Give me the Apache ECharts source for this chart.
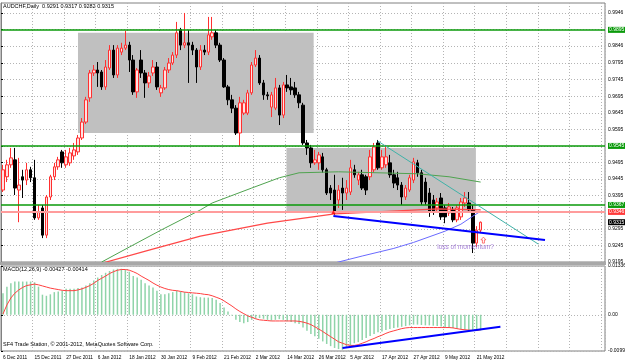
<!DOCTYPE html>
<html>
<head>
<meta charset="utf-8">
<script src="https://cdn.jsdelivr.net/npm/echarts@6/dist/echarts.min.js"></script>
<style>
  html, body { margin: 0; padding: 0; background: #fff; }
  #chart { width: 625px; height: 363px; }
</style>
</head>
<body>
<div id="chart"></div>
<script>
// trading days shown on the chart (one bar each)
var dates = [
  '6 Dec 2011', '7 Dec 2011', '8 Dec 2011', '9 Dec 2011', '11 Dec 2011', '12 Dec 2011', '13 Dec 2011', '14 Dec 2011',
  '15 Dec 2011', '16 Dec 2011', '19 Dec 2011', '20 Dec 2011', '21 Dec 2011', '22 Dec 2011', '23 Dec 2011', '26 Dec 2011',
  '27 Dec 2011', '28 Dec 2011', '29 Dec 2011', '30 Dec 2011', '2 Jan 2012', '3 Jan 2012', '4 Jan 2012', '5 Jan 2012',
  '6 Jan 2012', '9 Jan 2012', '10 Jan 2012', '11 Jan 2012', '12 Jan 2012', '13 Jan 2012', '16 Jan 2012', '17 Jan 2012',
  '18 Jan 2012', '19 Jan 2012', '20 Jan 2012', '23 Jan 2012', '24 Jan 2012', '25 Jan 2012', '26 Jan 2012', '27 Jan 2012',
  '30 Jan 2012', '31 Jan 2012', '1 Feb 2012', '2 Feb 2012', '3 Feb 2012', '6 Feb 2012', '7 Feb 2012', '8 Feb 2012',
  '9 Feb 2012', '10 Feb 2012', '13 Feb 2012', '14 Feb 2012', '15 Feb 2012', '16 Feb 2012', '17 Feb 2012', '20 Feb 2012',
  '21 Feb 2012', '22 Feb 2012', '23 Feb 2012', '24 Feb 2012', '27 Feb 2012', '28 Feb 2012', '29 Feb 2012', '1 Mar 2012',
  '2 Mar 2012', '5 Mar 2012', '6 Mar 2012', '7 Mar 2012', '8 Mar 2012', '9 Mar 2012', '12 Mar 2012', '13 Mar 2012',
  '14 Mar 2012', '15 Mar 2012', '16 Mar 2012', '19 Mar 2012', '20 Mar 2012', '21 Mar 2012', '22 Mar 2012', '23 Mar 2012',
  '26 Mar 2012', '27 Mar 2012', '28 Mar 2012', '29 Mar 2012', '30 Mar 2012', '2 Apr 2012', '3 Apr 2012', '4 Apr 2012',
  '5 Apr 2012', '6 Apr 2012', '9 Apr 2012', '10 Apr 2012', '11 Apr 2012', '12 Apr 2012', '13 Apr 2012', '16 Apr 2012',
  '17 Apr 2012', '18 Apr 2012', '19 Apr 2012', '20 Apr 2012', '23 Apr 2012', '24 Apr 2012', '25 Apr 2012', '26 Apr 2012',
  '27 Apr 2012', '30 Apr 2012', '1 May 2012', '2 May 2012', '3 May 2012', '4 May 2012', '7 May 2012', '8 May 2012',
  '9 May 2012', '10 May 2012', '11 May 2012', '14 May 2012', '15 May 2012', '16 May 2012', '17 May 2012', '18 May 2012',
  '21 May 2012', '22 May 2012'
];

// [open, close, low, high]
var candles = [
  [0.9412, 0.9473, 0.9406, 0.9488], [0.9452, 0.9488, 0.9436, 0.9503], [0.9488, 0.9509, 0.9479, 0.9539],
  [0.9503, 0.9418, 0.9397, 0.9539], [0.9412, 0.9427, 0.9315, 0.9509], [0.9452, 0.9442, 0.9388, 0.9473],
  [0.9442, 0.9473, 0.9427, 0.9494], [0.9473, 0.9449, 0.9436, 0.9482], [0.9449, 0.9328, 0.9322, 0.9503],
  [0.9328, 0.9346, 0.9322, 0.9367], [0.9358, 0.9276, 0.9267, 0.9367], [0.9276, 0.9391, 0.9267, 0.9397],
  [0.9391, 0.9452, 0.9382, 0.9458], [0.9452, 0.9482, 0.9442, 0.9494], [0.9482, 0.9503, 0.9473, 0.9512],
  [0.9527, 0.9494, 0.9479, 0.9533], [0.9488, 0.9512, 0.9479, 0.9533], [0.9494, 0.9524, 0.9485, 0.9539],
  [0.9515, 0.9533, 0.9503, 0.9554], [0.9527, 0.9569, 0.9518, 0.9578], [0.9569, 0.9617, 0.9563, 0.9629],
  [0.9617, 0.9684, 0.9611, 0.9693], [0.9690, 0.9765, 0.9678, 0.9774], [0.9765, 0.9774, 0.9756, 0.9789],
  [0.9774, 0.9765, 0.9723, 0.9798], [0.9768, 0.9723, 0.9714, 0.9774], [0.9723, 0.9783, 0.9714, 0.9804],
  [0.9780, 0.9834, 0.9774, 0.9849], [0.9834, 0.9759, 0.9750, 0.9849], [0.9759, 0.9840, 0.9750, 0.9849],
  [0.9828, 0.9840, 0.9819, 0.9856], [0.9840, 0.9849, 0.9834, 0.9892], [0.9849, 0.9804, 0.9768, 0.9859],
  [0.9804, 0.9708, 0.9699, 0.9819], [0.9708, 0.9774, 0.9690, 0.9780], [0.9804, 0.9765, 0.9750, 0.9834],
  [0.9765, 0.9735, 0.9690, 0.9774], [0.9735, 0.9756, 0.9720, 0.9768], [0.9765, 0.9783, 0.9756, 0.9804],
  [0.9783, 0.9723, 0.9714, 0.9798], [0.9705, 0.9720, 0.9693, 0.9729], [0.9720, 0.9774, 0.9714, 0.9783],
  [0.9774, 0.9795, 0.9765, 0.9810], [0.9795, 0.9819, 0.9789, 0.9828], [0.9819, 0.9886, 0.9810, 0.9919],
  [0.9895, 0.9849, 0.9834, 0.9901], [0.9849, 0.9856, 0.9840, 0.9946], [0.9856, 0.9849, 0.9735, 0.9895],
  [0.9849, 0.9834, 0.9819, 0.9859], [0.9834, 0.9783, 0.9735, 0.9840], [0.9783, 0.9834, 0.9774, 0.9849],
  [0.9834, 0.9828, 0.9819, 0.9849], [0.9828, 0.9880, 0.9819, 0.9934], [0.9874, 0.9886, 0.9865, 0.9934],
  [0.9886, 0.9849, 0.9840, 0.9895], [0.9849, 0.9804, 0.9798, 0.9856], [0.9804, 0.9723, 0.9720, 0.9810],
  [0.9723, 0.9684, 0.9668, 0.9729], [0.9684, 0.9659, 0.9644, 0.9699], [0.9659, 0.9584, 0.9578, 0.9668],
  [0.9584, 0.9675, 0.9545, 0.9693], [0.9644, 0.9675, 0.9638, 0.9684], [0.9644, 0.9705, 0.9638, 0.9714],
  [0.9705, 0.9789, 0.9699, 0.9798], [0.9789, 0.9810, 0.9783, 0.9834], [0.9810, 0.9735, 0.9729, 0.9819],
  [0.9735, 0.9699, 0.9684, 0.9744], [0.9699, 0.9696, 0.9684, 0.9708], [0.9662, 0.9699, 0.9632, 0.9708],
  [0.9659, 0.9720, 0.9653, 0.9750], [0.9720, 0.9638, 0.9608, 0.9729], [0.9638, 0.9729, 0.9629, 0.9738],
  [0.9729, 0.9720, 0.9708, 0.9759], [0.9723, 0.9714, 0.9699, 0.9750], [0.9720, 0.9699, 0.9690, 0.9738],
  [0.9699, 0.9675, 0.9659, 0.9708], [0.9668, 0.9554, 0.9548, 0.9675], [0.9554, 0.9539, 0.9518, 0.9563],
  [0.9539, 0.9494, 0.9479, 0.9548], [0.9494, 0.9503, 0.9488, 0.9533], [0.9494, 0.9518, 0.9473, 0.9527],
  [0.9512, 0.9473, 0.9464, 0.9524], [0.9473, 0.9403, 0.9397, 0.9479], [0.9418, 0.9403, 0.9382, 0.9427],
  [0.9412, 0.9343, 0.9337, 0.9458], [0.9382, 0.9412, 0.9358, 0.9427], [0.9418, 0.9403, 0.9352, 0.9449],
  [0.9403, 0.9418, 0.9382, 0.9442], [0.9406, 0.9479, 0.9397, 0.9503], [0.9473, 0.9458, 0.9449, 0.9488],
  [0.9442, 0.9458, 0.9427, 0.9467], [0.9458, 0.9418, 0.9412, 0.9473], [0.9452, 0.9412, 0.9397, 0.9458],
  [0.9452, 0.9512, 0.9442, 0.9533], [0.9473, 0.9542, 0.9464, 0.9554], [0.9554, 0.9479, 0.9473, 0.9563],
  [0.9479, 0.9512, 0.9473, 0.9533], [0.9488, 0.9512, 0.9479, 0.9548], [0.9494, 0.9458, 0.9449, 0.9518],
  [0.9458, 0.9433, 0.9418, 0.9473], [0.9449, 0.9427, 0.9412, 0.9467], [0.9427, 0.9391, 0.9367, 0.9436],
  [0.9391, 0.9418, 0.9382, 0.9427], [0.9412, 0.9449, 0.9406, 0.9458], [0.9442, 0.9497, 0.9433, 0.9509],
  [0.9494, 0.9464, 0.9452, 0.9503], [0.9464, 0.9376, 0.9367, 0.9473], [0.9436, 0.9376, 0.9367, 0.9449],
  [0.9403, 0.9346, 0.9331, 0.9418], [0.9382, 0.9346, 0.9337, 0.9397], [0.9358, 0.9376, 0.9346, 0.9388],
  [0.9388, 0.9331, 0.9322, 0.9403], [0.9358, 0.9331, 0.9312, 0.9367], [0.9343, 0.9361, 0.9334, 0.9373],
  [0.9352, 0.9322, 0.9315, 0.9361], [0.9322, 0.9358, 0.9315, 0.9367], [0.9331, 0.9376, 0.9322, 0.9388],
  [0.9373, 0.9388, 0.9361, 0.9406], [0.9373, 0.9352, 0.9343, 0.9406], [0.9352, 0.9252, 0.9222, 0.9367],
  [0.9252, 0.9291, 0.9240, 0.9303], [0.9291, 0.9315, 0.9282, 0.9317]
];

// moving averages, [bar index, price] read at a few points
var maGreen = [[25, 0.9195], [32, 0.9240], [40, 0.9291], [50, 0.9352], [53, 0.9373], [63, 0.9418], [70, 0.9449],
  [75, 0.9464], [85, 0.9467], [95, 0.9464], [105, 0.9461], [113, 0.9452], [121, 0.9436]];
var maRed = [[25, 0.9191], [37, 0.9231], [50, 0.9273], [67, 0.9312], [84, 0.9340], [100, 0.9349], [110, 0.9355], [121, 0.9352]];
var maBlue = [[83, 0.9189], [91, 0.9213], [99, 0.9236], [104, 0.9254], [112, 0.9288], [116, 0.9309], [119, 0.9333], [121, 0.9348]];

// hand drawn objects on the price chart
var boxes = [[[19.5, 0.9886], [79.2, 0.9584]], [[72.3, 0.9539], [120.3, 0.9346]]];
var supportLine = [[84.2, 0.9334], [137.8, 0.9261]];
var resistLine = [[95.4, 0.9560], [136.1, 0.9249]];
var greenLevels = [0.9895, 0.9545, 0.9367];
var pinkLevel = 0.9346;
var lastClose = 0.9315;

// MACD(12,26,9) in units of 0.0001
var macdMain = [59, 77, 86, 91, 91, 91, 91, 91, 89, 77,
  55, 52, 56, 62, 64, 66, 71, 71, 71, 73,
  75, 80, 86, 94, 102, 109, 115, 120, 124, 126,
  126, 124, 118, 106, 102, 96, 86, 80, 75, 66,
  56, 56, 59, 62, 66, 64, 62, 59, 56, 50,
  48, 47, 47, 46, 41, 32, 20, 9, -2, -14,
  -20, -23, -20, -14, -11, -9, -11, -14, -16, -14,
  -12, -14, -18, -20, -23, -25, -35, -44, -53, -59,
  -66, -73, -80, -86, -91, -94, -96, -91, -84, -78,
  -75, -69, -64, -58, -53, -48, -46, -42, -39, -36,
  -35, -33, -31, -29, -27, -27, -28, -29, -29, -30,
  -31, -32, -34, -35, -36, -38, -40, -41, -42, -43,
  -42, -43];
var macdSignal = [2, 27, 46, 59, 68, 75, 80, 82, 84, 82,
  79, 76, 73, 71, 69, 67, 66, 66, 66, 68,
  71, 75, 80, 86, 94, 100, 106, 113, 118, 122,
  124, 124, 122, 118, 113, 106, 100, 94, 87, 81,
  76, 72, 69, 67, 66, 64, 62, 61, 60, 59,
  58, 56, 55, 52, 48, 44, 38, 31, 24, 16,
  9, 3, -3, -7, -11, -14, -15, -16, -17, -17,
  -17, -17, -17, -17, -17, -18, -20, -23, -27, -33,
  -39, -46, -53, -60, -67, -74, -78, -82, -84, -84,
  -82, -78, -74, -69, -65, -60, -56, -51, -47, -44,
  -41, -38, -36, -35, -35, -35, -35, -35, -35, -35,
  -35, -35, -35, -35, -36, -38, -40, -41, -42, -43,
  -43, -41];
var macdTrend = [[86.5, -0.0091], [126.5, -0.0033]];

// axis ticks
var priceGrid = [0.9946, 0.9896, 0.9846, 0.9795, 0.9745, 0.9695, 0.9645, 0.9595, 0.9545, 0.9495,
  0.9445, 0.9395, 0.9345, 0.9295, 0.9245, 0.9195];
var priceLabels = [0.9946, 0.9846, 0.9795, 0.9745, 0.9695, 0.9645, 0.9595, 0.9495, 0.9445, 0.9395,
  0.9295, 0.9245, 0.9195];
var macdTicks = [-0.00993, 0, 0.01336];

var slots = 153;
var cats = dates.slice();
for (var i = dates.length; i < slots; i++) cats.push('#' + i);

var font = 'Liberation Sans';
var small = { fontFamily: font, fontSize: 5.5, color: '#000', fontWeight: 'normal' };
var dots = { color: '#b4b4b4', type: [1, 2], width: 1 };

function atBar(arr) {
  return arr.map(function (p) { return [p[0] + 0.5, p[1]]; });
}

function levelLine(v, lineColor, tagColor, width) {
  return {
    yAxis: v,
    lineStyle: { color: lineColor, width: width, type: 'solid' },
    label: {
      show: true, position: 'end', distance: 3, formatter: v.toFixed(4),
      backgroundColor: tagColor, color: '#fff', fontFamily: font, fontSize: 5, padding: [1, 1, 0, 1]
    }
  };
}

var chart = echarts.init(document.getElementById('chart'));
chart.setOption({
  animation: false,
  backgroundColor: '#fff',
  title: [
    { text: 'AUDCHF,Daily  0.9291 0.9317 0.9282 0.9315', left: 3, top: 3, padding: 0, textStyle: small },
    { text: 'MACD(12,26,9) -0.00427 -0.00414', left: 3, top: 266, padding: 0, textStyle: small },
    { text: 'SF4 Trade Station, \u00a9 2001-2012, MetaQuotes Software Corp.', left: 3, top: 341, padding: 0, textStyle: small }
  ],
  graphic: [
    { type: 'rect', left: 0, top: 262, shape: { width: 606, height: 3 }, style: { fill: '#a8a8a8' }, z: 10 }
  ],
  grid: [
    { left: 1, right: 20, top: 3, height: 259, show: true, borderColor: '#808080', borderWidth: 1, outerBoundsMode: 'none' },
    { left: 1, right: 20, top: 266, height: 85, show: true, borderColor: '#808080', borderWidth: 1, outerBoundsMode: 'none' }
  ],
  xAxis: [
    {
      type: 'category', gridIndex: 0, data: cats, boundaryGap: true,
      axisLine: { show: false }, axisTick: { show: false }, axisLabel: { show: false },
      splitLine: { show: true, interval: 7, lineStyle: dots }
    },
    { type: 'value', gridIndex: 0, min: 0, max: slots, show: false },
    {
      type: 'category', gridIndex: 1, data: cats, boundaryGap: true,
      axisLine: { show: false }, axisTick: { show: false },
      axisLabel: {
        interval: 7, align: 'left', margin: 4, fontFamily: font, fontSize: 4.8, color: '#000',
        formatter: function (v) { return v.charAt(0) === '#' ? '' : v; }
      },
      splitLine: { show: true, interval: 7, lineStyle: dots }
    },
    { type: 'value', gridIndex: 1, min: 0, max: slots, show: false }
  ],
  yAxis: [
    {
      type: 'value', gridIndex: 0, position: 'right', min: 0.9195, max: 0.9976,
      axisLine: { show: true, lineStyle: { color: '#808080' } },
      axisTick: { show: true, length: 2, customValues: priceGrid, lineStyle: { color: '#000' } },
      axisLabel: {
        customValues: priceLabels, margin: 3, fontFamily: font, fontSize: 5, color: '#000',
        formatter: function (v) { return v.toFixed(4); }
      },
      splitLine: { show: true, lineStyle: dots }
    },
    {
      type: 'value', gridIndex: 1, position: 'right', min: macdTicks[0], max: macdTicks[2],
      axisLine: { show: true, lineStyle: { color: '#808080' } },
      axisTick: { show: true, length: 2, customValues: macdTicks, lineStyle: { color: '#000' } },
      axisLabel: {
        customValues: macdTicks, margin: 3, fontFamily: font, fontSize: 5, color: '#000',
        formatter: function (v) { return v === 0 ? '0.00' : v.toFixed(5); }
      },
      splitLine: { show: true, lineStyle: dots }
    }
  ],
  series: [
    {
      name: 'boxes', type: 'line', xAxisIndex: 1, yAxisIndex: 0, data: [], z: 1,
      markArea: {
        silent: true, itemStyle: { color: '#c0c0c0' },
        data: boxes.map(function (b) { return [{ coord: b[0] }, { coord: b[1] }]; })
      }
    },
    {
      name: 'levels', type: 'line', xAxisIndex: 1, yAxisIndex: 0, data: [], z: 2,
      markLine: {
        silent: true, symbol: 'none', animation: false, precision: 4,
        data: greenLevels.map(function (v) { return levelLine(v, '#0a9a0a', '#0a9a0a', 1.5); })
          .concat([levelLine(pinkLevel, '#ff9c9c', '#ff3b3b', 2), levelLine(lastClose, 'rgba(0,0,0,0)', '#000', 1)])
      }
    },
    {
      name: 'AUDCHF', type: 'candlestick', xAxisIndex: 0, yAxisIndex: 0, data: candles, barWidth: 3, z: 3,
      itemStyle: { color: '#ffe2e2', color0: '#000', borderColor: '#ff3030', borderColor0: '#000', borderWidth: 1 }
    },
    {
      name: 'MA green', type: 'line', xAxisIndex: 1, yAxisIndex: 0, data: atBar(maGreen), symbol: 'none', z: 4,
      lineStyle: { color: '#4fa34f', width: 1 }
    },
    {
      name: 'MA red', type: 'line', xAxisIndex: 1, yAxisIndex: 0, data: atBar(maRed), symbol: 'none', z: 4,
      lineStyle: { color: '#ff4848', width: 1.2 }
    },
    {
      name: 'MA blue', type: 'line', xAxisIndex: 1, yAxisIndex: 0, data: atBar(maBlue), symbol: 'none', z: 4,
      lineStyle: { color: '#6a6aff', width: 1 }
    },
    {
      name: 'resistance', type: 'line', xAxisIndex: 1, yAxisIndex: 0, data: resistLine, symbol: 'none', z: 5,
      lineStyle: { color: '#3fb2a8', width: 1 }
    },
    {
      name: 'support', type: 'line', xAxisIndex: 1, yAxisIndex: 0, data: supportLine, symbol: 'none', z: 5,
      lineStyle: { color: '#0000ff', width: 2 }
    },
    {
      name: 'marks', type: 'scatter', xAxisIndex: 1, yAxisIndex: 0, z: 6, silent: true,
      data: [
        { value: [84.2, 0.9346], symbol: 'triangle', symbolSize: 4, itemStyle: { color: '#ff0000' } },
        {
          value: [122.2, 0.9261], symbol: 'path://M5,0 L10,5 L7,5 L7,11 L3,11 L3,5 L0,5 Z', symbolSize: [5, 6],
          itemStyle: { color: '#fff', borderColor: '#ff3030', borderWidth: 0.8 }
        },
        {
          value: [110.5, 0.9240], symbolSize: 0,
          label: { show: true, position: 'right', distance: 0, formatter: 'loss of momentum?', color: '#9060d0', fontFamily: font, fontSize: 6.5 }
        }
      ]
    },
    {
      name: 'MACD', type: 'bar', xAxisIndex: 2, yAxisIndex: 1, barWidth: 1.5, z: 2,
      data: macdMain.map(function (v) { return v / 10000; }),
      itemStyle: { color: '#8fd4a9' }
    },
    {
      name: 'Signal', type: 'line', xAxisIndex: 2, yAxisIndex: 1, symbol: 'none', z: 3,
      data: macdSignal.map(function (v) { return v / 10000; }),
      lineStyle: { color: '#ff4040', width: 1 }
    },
    {
      name: 'macd trend', type: 'line', xAxisIndex: 3, yAxisIndex: 1, data: macdTrend, symbol: 'none', z: 4,
      lineStyle: { color: '#0000ff', width: 2 }
    }
  ]
});
</script>
</body>
</html>
